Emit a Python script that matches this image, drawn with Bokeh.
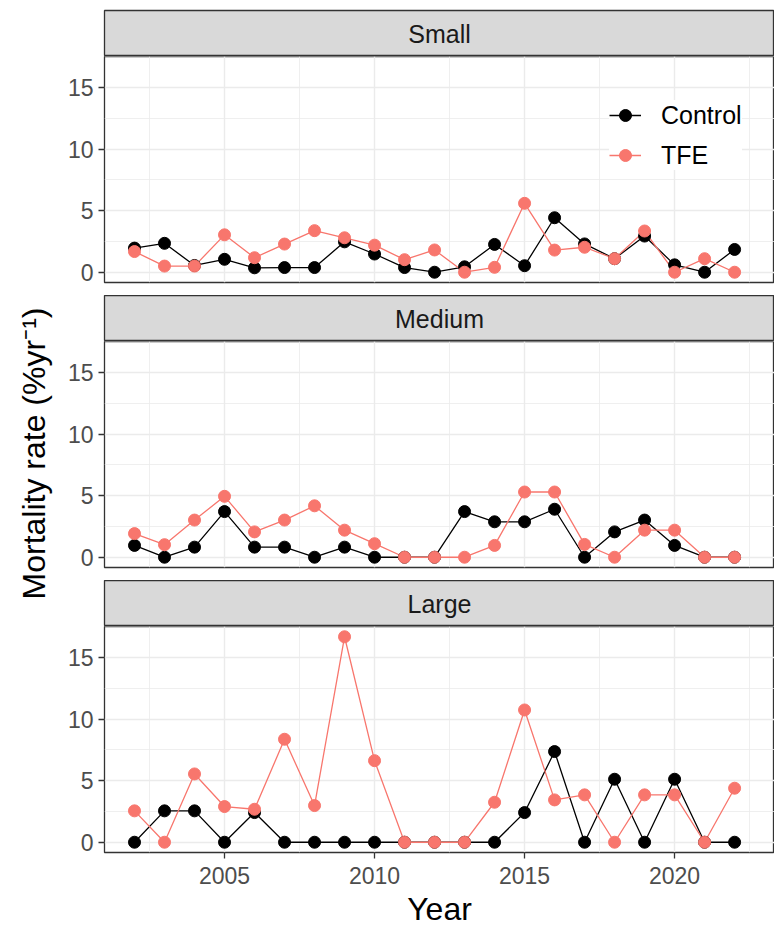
import math
from bokeh.plotting import figure
from bokeh.layouts import column, row
from bokeh.models import Range1d, FixedTicker, Legend, LegendItem, ColumnDataSource
from bokeh.embed import file_html
from bokeh.resources import INLINE
from bokeh.core.properties import value

# ---------------- data ----------------
years = list(range(2002, 2023))
size_classes = ["Small", "Medium", "Large"]
treatments = ["Control", "TFE"]

small_control = [1.96, 2.35, 0.55, 1.05, 0.36, 0.38, 0.38, 2.47, 1.48, 0.38, 0.0, 0.44, 2.26, 0.53, 4.43, 2.3, 1.1, 2.94, 0.6, 0.0, 1.85]
small_tfe = [1.68, 0.5, 0.5, 3.04, 1.18, 2.29, 3.38, 2.8, 2.2, 1.02, 1.81, 0.0, 0.4, 5.6, 1.8, 2.03, 1.1, 3.35, 0.0, 1.1, 0.0]
medium_control = [0.96, 0.0, 0.82, 3.71, 0.82, 0.82, 0.0, 0.82, 0.0, 0.0, 0.0, 3.71, 2.88, 2.88, 3.9, 0.0, 2.06, 3.02, 0.96, 0.0, 0.0]
medium_tfe = [1.92, 1.02, 3.02, 4.95, 2.06, 3.02, 4.18, 2.2, 1.1, 0.0, 0.0, 0.0, 0.96, 5.3, 5.3, 1.04, 0.0, 2.2, 2.2, 0.0, 0.0]
large_control = [0.0, 2.55, 2.55, 0.0, 2.41, 0.0, 0.0, 0.0, 0.0, 0.0, 0.0, 0.0, 0.0, 2.41, 7.37, 0.0, 5.12, 0.0, 5.12, 0.0, 0.0]
large_tfe = [2.55, 0.0, 5.55, 2.9, 2.68, 8.37, 2.98, 16.7, 6.63, 0.0, 0.0, 0.0, 3.25, 10.75, 3.44, 3.85, 0.0, 3.85, 3.85, 0.0, 4.39]

x_ticks = [2005, 2010, 2015, 2020]
x_minor = [2002.5, 2007.5, 2012.5, 2017.5, 2022.5]
y_ticks = [0, 5, 10, 15]
y_minor = [2.5, 7.5, 12.5, 17.5]
y_title = "Mortality rate (%yr\u207b\u00b9)"
x_title = "Year"

panel_data = {
    "Small": (small_control, small_tfe),
    "Medium": (medium_control, medium_tfe),
    "Large": (large_control, large_tfe),
}

# ---------------- style ----------------
FONT = "Liberation Sans"
COLORS = {"Control": "#000000", "TFE": "#F8766D"}
FRAME_W = 670
LABEL_W = 56
LEFT = 48
BORDER = "#333333"
GRID = "#EBEBEB"
TOTAL_H = 922


def make_strip(label, top):
    s = figure(frame_width=FRAME_W, frame_height=46,
               x_range=Range1d(0, 1), y_range=Range1d(0, 1),
               x_axis_location=None, y_axis_location=None,
               min_border_left=LEFT, min_border_right=0,
               min_border_top=top, min_border_bottom=0,
               toolbar_location=None, output_backend="svg")
    s.grid.visible = False
    s.background_fill_color = "#D9D9D9"
    s.border_fill_color = "white"
    s.outline_line_color = BORDER
    s.outline_line_width = 1.3
    s.text(x=[0.5], y=[0.5], text=[label], text_align="center",
           text_baseline="middle", text_font=value(FONT),
           text_font_size="25px", text_color="#1A1A1A")
    return s


def make_panel(name, bottom_axis, legend):
    ctl, tfe = panel_data[name]
    p = figure(frame_width=FRAME_W, frame_height=226,
               x_range=Range1d(2001.0, 2023.33), y_range=Range1d(-0.835, 17.535),
               x_axis_location="below" if bottom_axis else None,
               min_border_left=LEFT, min_border_right=0,
               min_border_top=0, min_border_bottom=0 if bottom_axis else 13,
               toolbar_location=None, output_backend="svg")
    p.background_fill_color = "white"
    p.border_fill_color = "white"
    p.outline_line_color = BORDER
    p.outline_line_width = 1.3

    xt = FixedTicker(ticks=x_ticks, minor_ticks=x_minor)
    yt = FixedTicker(ticks=y_ticks, minor_ticks=y_minor)
    for g, t in ((p.xgrid, xt), (p.ygrid, yt)):
        g.ticker = t
        g.grid_line_color = GRID
        g.grid_line_width = 1.4
        g.minor_grid_line_color = GRID
        g.minor_grid_line_width = 0.8

    p.yaxis.ticker = yt
    axes = list(p.yaxis) + (list(p.xaxis) if bottom_axis else [])
    if bottom_axis:
        p.xaxis.ticker = xt
        p.xaxis.axis_label = x_title
    for ax in axes:
        ax.axis_line_color = None
        ax.major_tick_line_color = BORDER
        ax.major_tick_line_width = 1.3
        ax.major_tick_in = 0
        ax.major_tick_out = 6
        ax.minor_tick_line_color = None
        ax.major_label_standoff = 5
        ax.major_label_text_font = FONT
        ax.major_label_text_font_size = "23px"
        ax.major_label_text_color = "#4D4D4D"
        ax.axis_label_text_font = FONT
        ax.axis_label_text_font_size = "32px"
        ax.axis_label_text_font_style = "normal"
        ax.axis_label_text_color = "black"
    if bottom_axis:
        p.xaxis.major_label_standoff = 8
        p.xaxis.axis_label_standoff = 4

    src = ColumnDataSource(dict(year=years, Control=ctl, TFE=tfe))
    lines = {}
    for tr in treatments:
        lines[tr] = p.line("year", tr, source=src, line_color=COLORS[tr], line_width=1.3)
    pts = {}
    for tr in treatments:
        pts[tr] = p.scatter("year", tr, source=src, marker="circle", size=12,
                            fill_color=COLORS[tr], line_color=COLORS[tr])

    if legend:
        items = [LegendItem(label=tr, renderers=[lines[tr], pts[tr]]) for tr in treatments]
        lg = Legend(items=items, location=(505, 112))
        lg.label_text_font = FONT
        lg.label_text_font_size = "25px"
        lg.label_text_color = "black"
        lg.glyph_width = 32
        lg.glyph_height = 30
        lg.label_height = 30
        lg.label_standoff = 20
        lg.spacing = 10
        lg.padding = 18
        lg.margin = 0
        lg.border_line_color = None
        lg.background_fill_color = "white"
        lg.background_fill_alpha = 1.0
        p.add_layout(lg, "center")
    return p


# y-axis title spanning all panels
lab = figure(frame_width=LABEL_W, frame_height=TOTAL_H,
             x_range=Range1d(0, LABEL_W), y_range=Range1d(TOTAL_H, 0),
             x_axis_location=None, y_axis_location=None,
             min_border=0, toolbar_location=None, output_backend="svg")
lab.grid.visible = False
lab.outline_line_color = None
lab.background_fill_color = "white"
lab.border_fill_color = "white"
lab.text(x=[33], y=[453], text=[y_title], angle=math.pi / 2,
         text_align="center", text_baseline="middle",
         text_font=value(FONT), text_font_size="32px", text_color="black")

panels = column(
    make_strip("Small", 10),
    make_panel("Small", False, True),
    make_strip("Medium", 0),
    make_panel("Medium", False, False),
    make_strip("Large", 0),
    make_panel("Large", True, False),
    spacing=0,
)
layout = row(lab, panels, spacing=0)

open("out.html", "w").write(file_html(layout, INLINE))
